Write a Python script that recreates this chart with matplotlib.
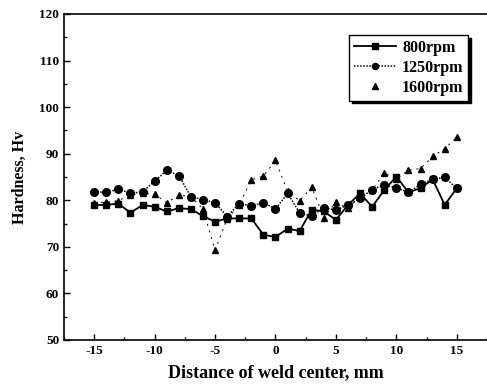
import matplotlib
matplotlib.use("Agg")
import matplotlib.pyplot as plt
from matplotlib.ticker import MultipleLocator

plt.rcParams['font.family'] = ['Liberation Serif', 'DejaVu Serif']
plt.rcParams['font.weight'] = 'bold'
plt.rcParams['axes.unicode_minus'] = False

distance = list(range(-15, 16))
hv_800 = [79.0, 79.0, 79.3, 77.3, 79.0, 78.6, 77.6, 78.3, 78.1, 76.6, 75.4, 76.1, 76.1, 76.1,
          72.6, 72.1, 73.9, 73.4, 78.0, 77.6, 75.8, 79.0, 81.5, 78.6, 82.2, 85.1, 81.7, 82.6,
          84.5, 79.0, 82.6]
hv_1250 = [81.8, 81.7, 82.4, 81.5, 81.8, 84.1, 86.4, 85.3, 80.8, 80.1, 79.5, 76.5, 79.3, 78.8,
           79.5, 78.1, 81.5, 77.3, 76.6, 78.4, 77.9, 79.0, 80.4, 82.3, 83.3, 82.7, 81.7, 83.4,
           84.5, 84.9, 82.6]
hv_1600 = [79.5, 79.6, 79.9, 81.2, 81.5, 81.3, 79.5, 81.1, 80.8, 78.1, 69.3, 76.0, 79.0, 84.4,
           85.2, 88.6, 81.9, 79.9, 82.8, 76.3, 79.6, 78.3, 80.8, 82.2, 85.9, 84.5, 86.5, 86.8,
           89.4, 91.1, 93.5]

fig = plt.figure(figsize=(4.87, 3.92), dpi=100)
ax = fig.add_axes([0.1314, 0.1327, 0.8686, 0.8316])

ax.plot(distance, hv_1600, linestyle=(0, (2, 5)), color='black', linewidth=0.7)
ax.plot(distance, hv_800, color='black', linewidth=1.3, marker='s', markersize=5,
        label='800rpm')
ax.plot(distance, hv_1250, color='black', linewidth=1.1, linestyle=(0, (1, 1)), marker='o',
        markersize=5.5, label='1250rpm')
ax.plot(distance, hv_1600, linestyle='none', color='black', marker='^', markersize=5,
        label='1600rpm')

ax.set_xlim(-17.5, 17.5)
ax.set_ylim(50, 120)
ax.xaxis.set_major_locator(MultipleLocator(5))
ax.xaxis.set_minor_locator(MultipleLocator(2.5))
ax.yaxis.set_major_locator(MultipleLocator(10))
ax.yaxis.set_minor_locator(MultipleLocator(5))
ax.tick_params(which='both', direction='in', labelsize=9.5, width=1)
ax.tick_params(which='major', length=4)
ax.tick_params(which='minor', length=2.5)
ax.spines['right'].set_visible(False)
for s in ['left', 'bottom', 'top']:
    ax.spines[s].set_linewidth(1.2)

ax.set_xlabel('Distance of weld center, mm', fontsize=13, fontweight='bold', labelpad=5)
ax.set_ylabel('Hardness, Hv', fontsize=11.5, fontweight='bold', labelpad=8)

leg = ax.legend(loc='upper right', bbox_to_anchor=(0.975, 0.96), frameon=True,
                fancybox=False, shadow={'color': 'black', 'alpha': 1.0},
                edgecolor='black', fontsize=11.5,
                handlelength=2.6, borderpad=0.3, labelspacing=0.25, handletextpad=0.4,
                markerscale=0.8)
leg.get_frame().set_linewidth(1.0)

fig.savefig('out.png', dpi=100)
